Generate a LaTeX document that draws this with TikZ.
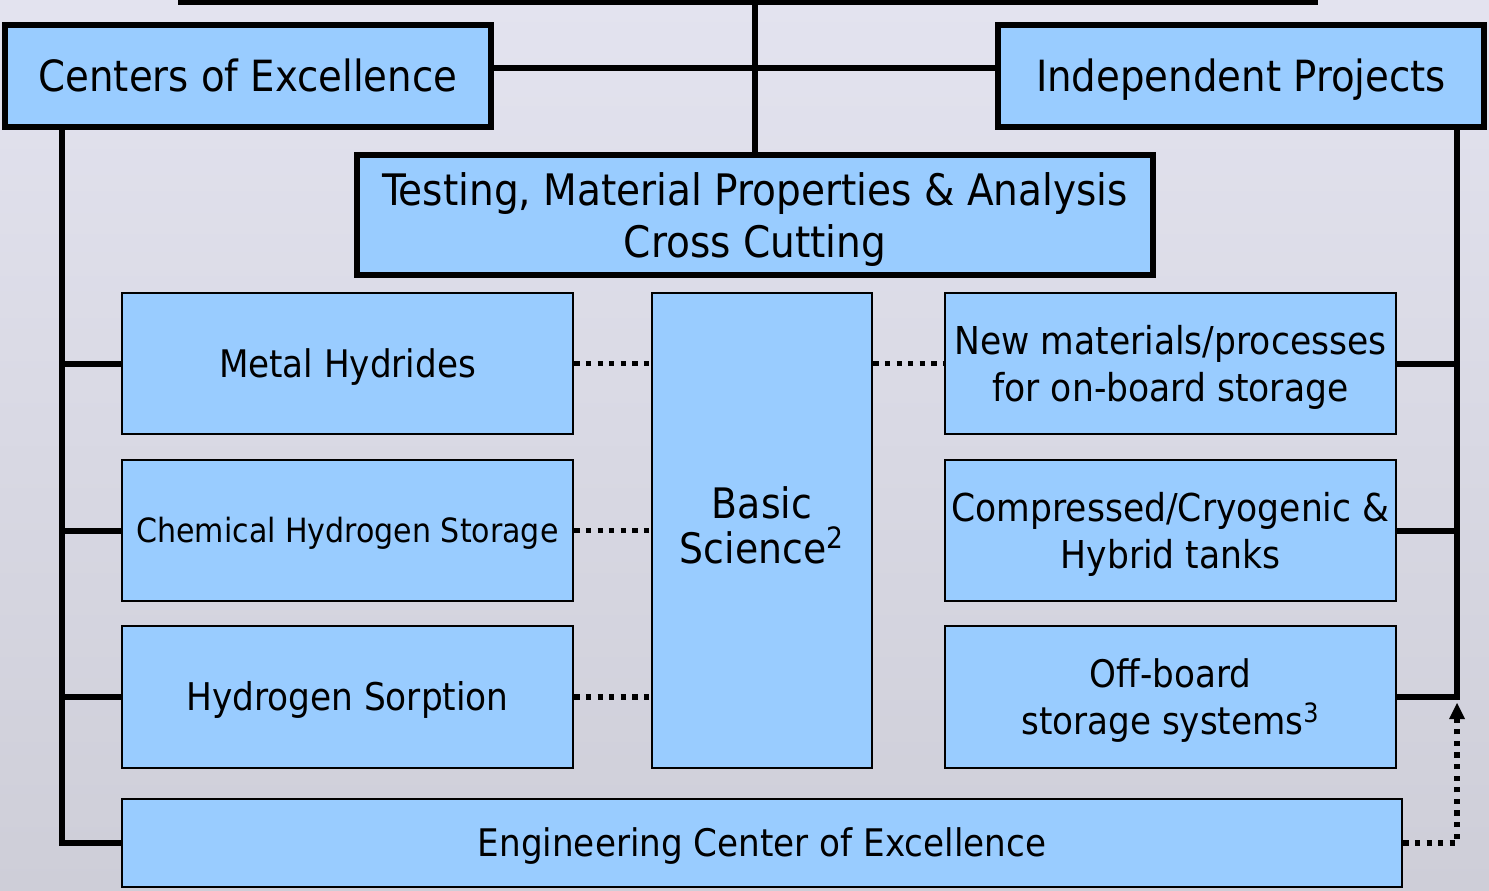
\documentclass[tikz,border=0pt]{standalone}
\usepackage{fontspec}
\setmainfont{DejaVu Sans Condensed}
\usetikzlibrary{arrows.meta}
\definecolor{bgtop}{RGB}{227,227,239}
\definecolor{bgbot}{RGB}{206,206,216}
\definecolor{boxblue}{RGB}{153,204,255}
\tikzset{
  box/.style={draw=black, fill=boxblue, line width=1.3pt, inner sep=0pt, align=center, text=black},
  bigbox/.style={box, line width=2.6pt},
  onecap/.style={text height=#1, text depth=0pt},
  nodepth/.style={text depth=0pt},
  conn/.style={line width=3pt, line cap=butt},
  dotconn/.style={line width=2.6pt, dash pattern=on 2.6pt off 3.2pt},
}
\begin{document}
\begin{tikzpicture}[x=0.5pt, y=-0.5pt]
\useasboundingbox (0,0) rectangle (1489,890);
\shade[top color=bgtop, bottom color=bgbot] (0,0) rectangle (1489,890);
% top-level boxes
\node[bigbox, minimum width=243pt, minimum height=51pt, onecap=15.7pt, font=\fontsize{21.5}{26}\selectfont] (coe) at (248,76) {Centers of Excellence};
\node[bigbox, minimum width=243pt, minimum height=51pt, onecap=15.7pt, font=\fontsize{21.5}{26}\selectfont] (ip) at (1241,76) {Independent Projects};
\node[bigbox, minimum width=398pt, minimum height=60pt, nodepth, font=\fontsize{21.7}{26}\selectfont] (test) at (755,215) {Testing, Material Properties \& Analysis\\Cross Cutting};
% left column
\node[box, minimum width=225.5pt, minimum height=70.5pt, onecap=13.9pt, font=\fontsize{19}{23}\selectfont] (mh) at (347.5,363.5) {Metal Hydrides};
\node[box, minimum width=225.5pt, minimum height=70.5pt, onecap=12.2pt, font=\fontsize{16.7}{20}\selectfont] (chs) at (347.5,530.5) {Chemical Hydrogen Storage};
\node[box, minimum width=225.5pt, minimum height=71pt, onecap=13.9pt, font=\fontsize{19.1}{23}\selectfont] (hs) at (347.5,697) {Hydrogen Sorption};
% center
\node[box, minimum width=110pt, minimum height=237.5pt, text depth=5pt, font=\fontsize{21}{22.5}\selectfont] (bs) at (762,530.5) {Basic\\Science\textsuperscript{2}};
% right column
\node[box, minimum width=225.5pt, minimum height=70.5pt, nodepth, font=\fontsize{19.2}{23.5}\selectfont] (nm) at (1170.5,363.5) {New materials/processes\\for on-board storage};
\node[box, minimum width=225.5pt, minimum height=70.5pt, nodepth, font=\fontsize{19.2}{23.5}\selectfont] (cc) at (1170.5,530.5) {Compressed/Cryogenic \&\\Hybrid tanks};
\node[box, minimum width=225.5pt, minimum height=71pt, nodepth, font=\fontsize{19}{23.5}\selectfont] (ob) at (1170.5,697) {Off-board\\storage systems\textsuperscript{3}};
% bottom
\node[box, minimum width=640pt, minimum height=44pt, onecap=13.9pt, font=\fontsize{19}{23}\selectfont] (ece) at (762,843) {Engineering Center of Excellence};
% coordinates
\coordinate (tl) at (178,2);
\coordinate (tr) at (1318,2);
\coordinate (tm) at (755,2);
\coordinate (hm) at (755,68);
\coordinate (lt) at (62,127);
\coordinate (rt) at (1457,127);
% solid connectors
\draw[conn] (tl) -- (tr);
\draw[conn] (tm) -- (test.north);
\draw[conn] (coe.east |- hm) -- (ip.west |- hm);
\draw[conn] (lt) |- (ece.west);
\draw[conn] (lt |- mh.west) -- (mh.west);
\draw[conn] (lt |- chs.west) -- (chs.west);
\draw[conn] (lt |- hs.west) -- (hs.west);
\draw[conn] (rt) -- (rt |- ob.east) -- (ob.east);
\draw[conn] (rt |- nm.east) -- (nm.east);
\draw[conn] (rt |- cc.east) -- (cc.east);
% dotted connectors
\draw[dotconn] (mh.east) -- (mh.east -| bs.west);
\draw[dotconn] (chs.east) -- (chs.east -| bs.west);
\draw[dotconn] (hs.east) -- (hs.east -| bs.west);
\draw[dotconn] (bs.east |- nm.west) -- (nm.west);
\draw[dotconn, -{Triangle[length=8pt, width=8pt, line width=0pt]}] (ece.east) -| ([yshift=-3pt]rt |- ob.east);
\end{tikzpicture}
\end{document}
